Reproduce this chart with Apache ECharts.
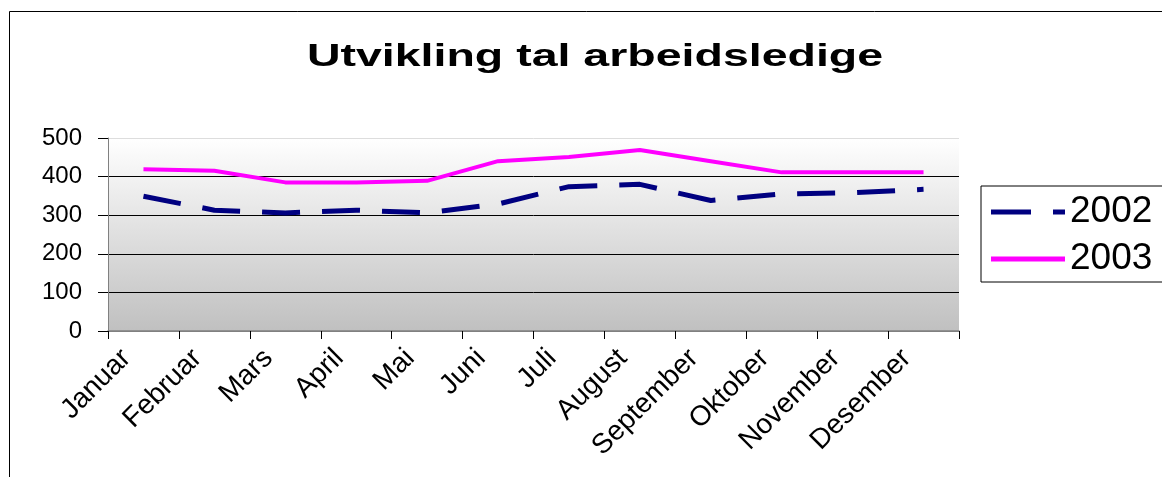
<!DOCTYPE html>
<html>
<head>
<meta charset="utf-8">
<script src="https://cdn.jsdelivr.net/npm/echarts@6/dist/echarts.min.js"></script>
<style>
html,body{margin:0;padding:0;background:#fff;}
#chart{width:1162px;height:477px;}
</style>
</head>
<body>
<div id="chart"></div>
<script>
const titleText = 'Utvikling tal arbeidsledige';
const months = ['Januar','Februar','Mars','April','Mai','Juni','Juli','August','September','Oktober','November','Desember'];
const seriesNames = ['2002','2003'];
const values2002 = [349, 313, 306, 313, 306, 329, 374, 380, 338, 355, 358, 367];
const values2003 = [419, 415, 385, 385, 389, 440, 451, 469, 440, 411, 411, 411];
const yTicks = [0, 100, 200, 300, 400, 500];

const chart = echarts.init(document.getElementById('chart'), null, {renderer: 'canvas'});
chart.setOption({
  animation: false,
  backgroundColor: '#ffffff',
  textStyle: {fontFamily: 'Arial, "Liberation Sans", sans-serif'},
  graphic: [
    {type: 'rect', silent: true, z: 0,
     shape: {x: 9.5, y: 11.5, width: 1300, height: 600},
     style: {fill: null, stroke: '#000', lineWidth: 1}},
    {type: 'text', x: 595, y: 57, scaleX: 1.5, z: 10,
     style: {text: titleText, x: 0, y: 0, align: 'center', verticalAlign: 'middle',
             font: 'bold 31px Arial, "Liberation Sans", sans-serif', fill: '#000'}}
  ],
  legend: {
    orient: 'vertical',
    left: 981, top: 186,
    padding: [6, 20, 3, 10],
    itemGap: 7,
    itemWidth: 74, itemHeight: 5,
    borderColor: '#000', borderWidth: 1,
    backgroundColor: '#fff',
    textStyle: {fontSize: 37, color: '#000', lineHeight: 40, fontFamily: 'Arial, "Liberation Sans", sans-serif'},
    data: [
      {name: seriesNames[0], icon: 'path://M0,0 H40 V5 H0 Z M62,0 H74 V5 H62 Z', itemStyle: {color: '#000080'}},
      {name: seriesNames[1], icon: 'path://M0,0 H74 V5 H0 Z', itemStyle: {color: '#ff00ff'}}
    ]
  },
  grid: {
    left: 108, right: 203, top: 138, bottom: 146,
    show: true,
    borderWidth: 0,
    backgroundColor: new echarts.graphic.LinearGradient(0, 0, 0, 1, [
      {offset: 0, color: '#ffffff'},
      {offset: 1, color: '#c0c0c0'}
    ])
  },
  xAxis: {
    type: 'category',
    data: months,
    boundaryGap: true,
    axisLine: {show: true, lineStyle: {color: '#808080', width: 1.5}},
    axisTick: {show: true, alignWithLabel: false, length: 8, lineStyle: {color: '#000'}},
    axisLabel: {interval: 0, rotate: 45, fontSize: 28, color: '#000', margin: 6,
                padding: [0, 24, 0, 0]},
    splitLine: {show: false}
  },
  yAxis: {
    type: 'value',
    min: yTicks[0], max: yTicks[yTicks.length - 1], interval: 100,
    axisLine: {show: true, lineStyle: {color: '#808080', width: 1}},
    axisTick: {show: true, length: 10, lineStyle: {color: '#000'}},
    axisLabel: {fontSize: 24, color: '#000', margin: 26},
    splitLine: {show: true, lineStyle: {color: ['#808080', '#000', '#000', '#000', '#000', '#dddddd'], width: 1}}
  },
  series: [
    {name: seriesNames[0], type: 'line', data: values2002, symbol: 'none',
     lineStyle: {color: '#000080', width: 5, type: [38, 22]},
     itemStyle: {color: '#000080'}},
    {name: seriesNames[1], type: 'line', data: values2003, symbol: 'none',
     lineStyle: {color: '#ff00ff', width: 4},
     itemStyle: {color: '#ff00ff'}}
  ]
});
</script>
</body>
</html>
